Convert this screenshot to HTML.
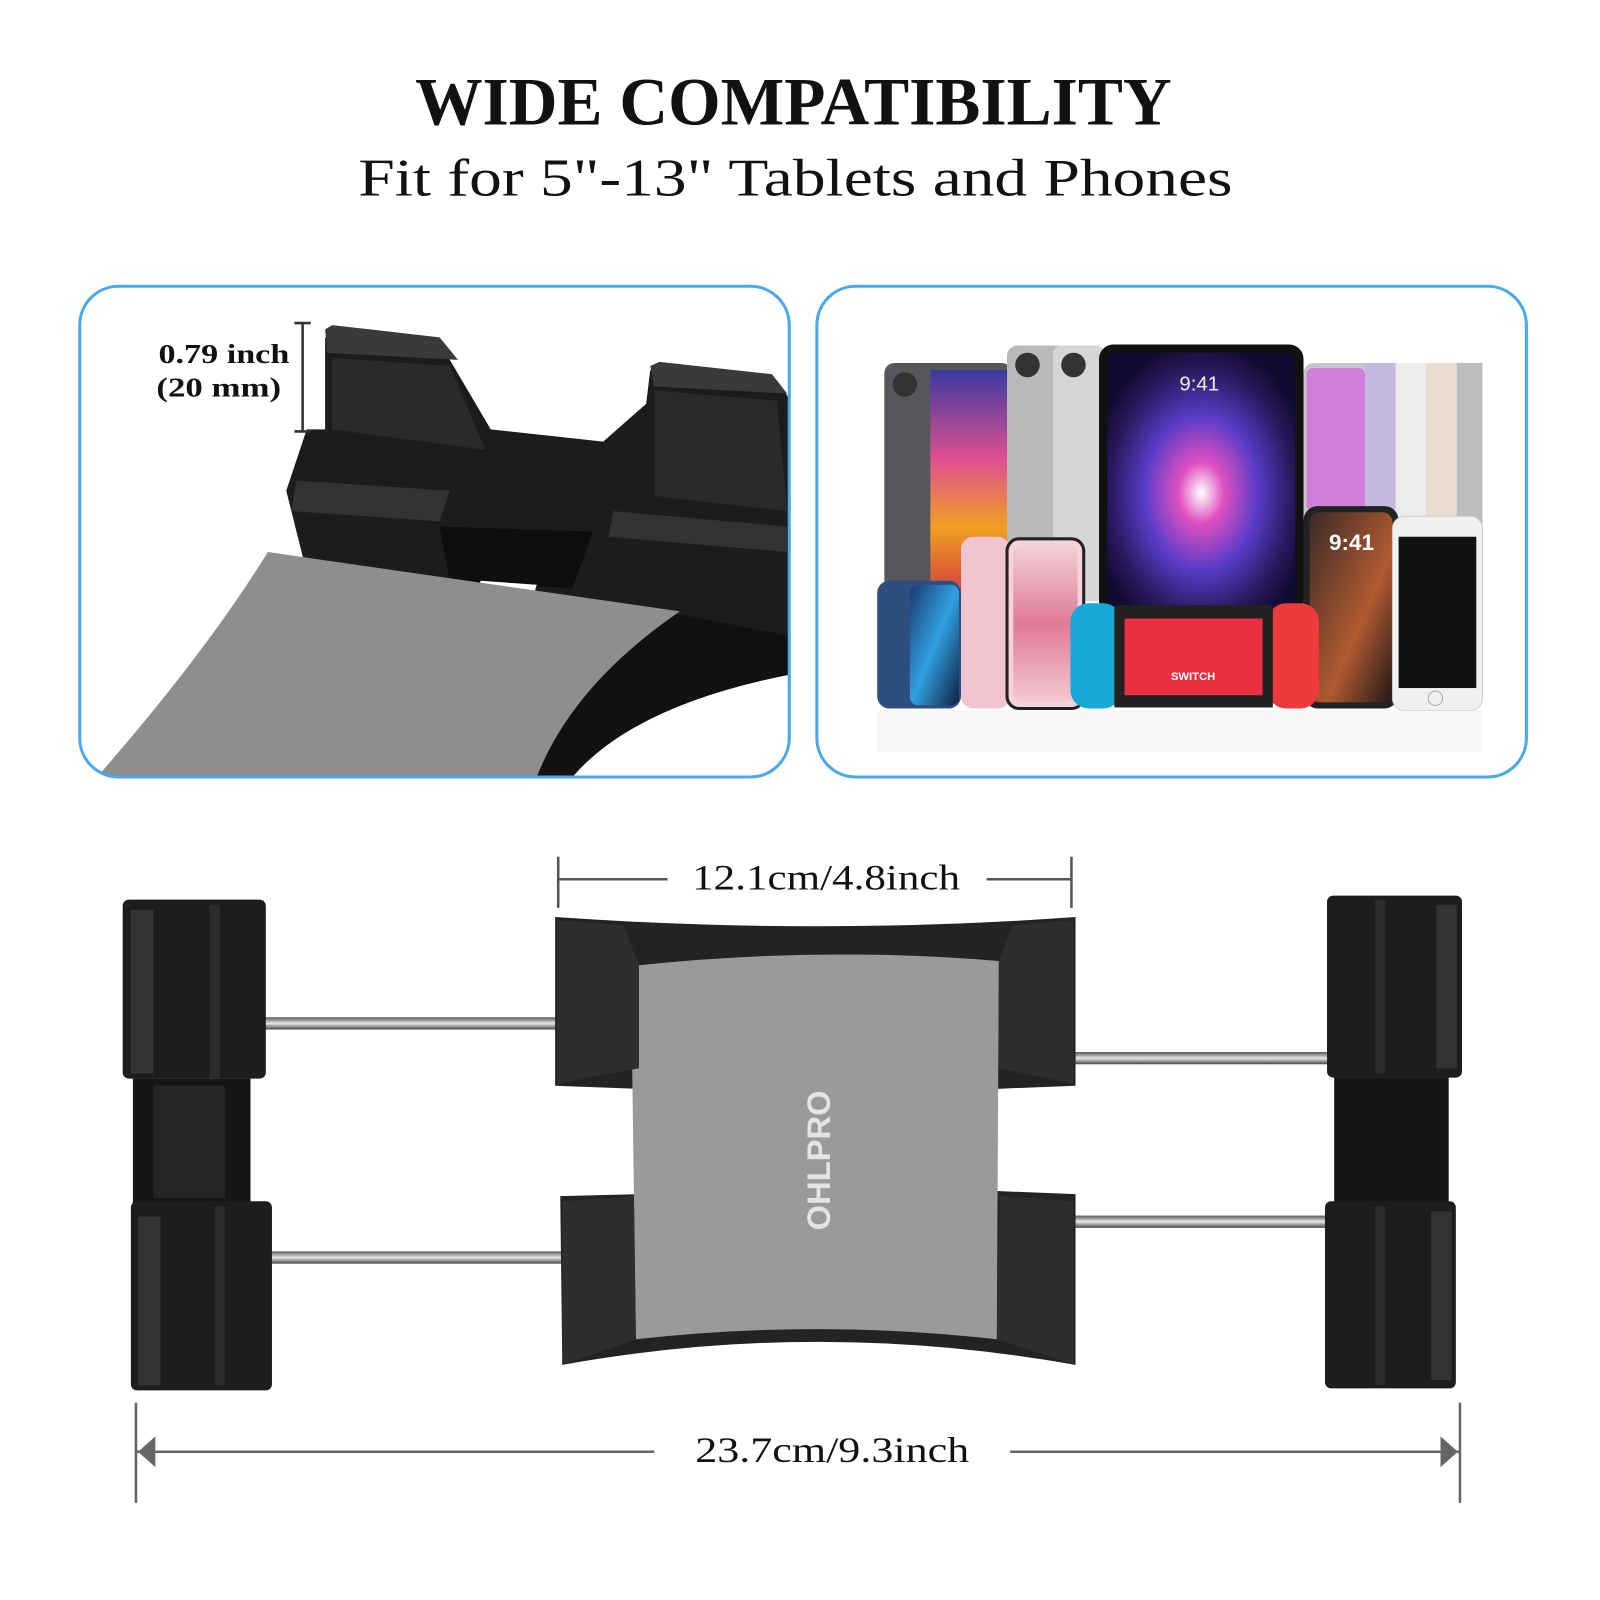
<!DOCTYPE html>
<html><head><meta charset="utf-8"><style>
html,body{margin:0;padding:0;background:#fff;}
svg{display:block}
</style></head><body>
<svg width="1600" height="1600" viewBox="0 0 1565 1565" xmlns="http://www.w3.org/2000/svg">
<defs>
<clipPath id="lb"><rect x="78" y="280" width="694" height="480" rx="38"/></clipPath>
<linearGradient id="rod" x1="0" y1="0" x2="0" y2="1"><stop offset="0" stop-color="#555"/><stop offset="0.5" stop-color="#e8e8e8"/><stop offset="1" stop-color="#444"/></linearGradient>
<radialGradient id="rays" cx="0.5" cy="0.55" r="0.6"><stop offset="0" stop-color="#fff"/><stop offset="0.2" stop-color="#e050c0"/><stop offset="0.5" stop-color="#5a3cc8"/><stop offset="0.8" stop-color="#2a1a60"/><stop offset="1" stop-color="#120a30"/></radialGradient>
<linearGradient id="warm" x1="0" y1="0" x2="0" y2="1"><stop offset="0" stop-color="#3a3aa0"/><stop offset="0.4" stop-color="#e05090"/><stop offset="0.7" stop-color="#f0a020"/><stop offset="1" stop-color="#d04040"/></linearGradient>
<linearGradient id="blueph" x1="0" y1="0" x2="1" y2="1"><stop offset="0" stop-color="#1a3a70"/><stop offset="0.5" stop-color="#30a0e0"/><stop offset="1" stop-color="#102040"/></linearGradient>
<linearGradient id="pinkph" x1="0" y1="0" x2="0" y2="1"><stop offset="0" stop-color="#f0d0d8"/><stop offset="0.5" stop-color="#e07a98"/><stop offset="1" stop-color="#f3c8d2"/></linearGradient>
<linearGradient id="darkph" x1="0" y1="0" x2="1" y2="1"><stop offset="0" stop-color="#3a2a28"/><stop offset="0.6" stop-color="#b05a30"/><stop offset="1" stop-color="#201818"/></linearGradient>
</defs>

<text x="776" y="122" text-anchor="middle" font-family="Liberation Serif, serif" font-weight="bold" font-size="66" textLength="740" lengthAdjust="spacingAndGlyphs" fill="#111">WIDE COMPATIBILITY</text>
<text x="778" y="191" text-anchor="middle" font-family="Liberation Serif, serif" font-size="52" textLength="855" lengthAdjust="spacingAndGlyphs" fill="#111">Fit for 5"-13" Tablets and Phones</text>

<!-- left box -->
<g clip-path="url(#lb)">
<path d="M280,480 L300,420 L318,420 L318,330 L430,335 L480,420 L590,432 L632,395 L636,362 L760,372 L772,390 L772,640 L560,600 L300,560 Z" fill="#1c1c1c"/>
<path d="M318,322 L325,318 L430,330 L448,352 L320,345 Z" fill="#3a3a3a"/>
<path d="M636,358 L645,354 L755,366 L770,385 L640,378 Z" fill="#3a3a3a"/>
<path d="M325,350 L440,358 L475,440 L325,420 Z" fill="#2a2a2a"/>
<path d="M640,382 L760,392 L770,500 L640,485 Z" fill="#2a2a2a"/>
<path d="M290,470 L440,480 L430,510 L285,500 Z" fill="#333"/>
<path d="M600,500 L770,515 L770,540 L595,525 Z" fill="#333"/>
<path d="M430,515 L580,520 L560,575 L440,570 Z" fill="#0e0e0e"/>
<path d="M470,568 L525,572 L522,582 L468,578 Z" fill="#fff"/>
<path d="M262,540 L660,600 L772,622 L772,660 Q620,690 560,760 L520,760 Z" fill="#111"/>
<path d="M262,540 L665,598 Q560,670 525,760 L95,760 Q200,640 262,540 Z" fill="#8e8e8e"/>
</g>
<rect x="78" y="280" width="694" height="480" rx="38" fill="none" stroke="#4aa8ec" stroke-width="3"/>
<text x="155" y="355" font-family="Liberation Serif, serif" font-weight="bold" font-size="27" textLength="128" lengthAdjust="spacingAndGlyphs" fill="#111">0.79 inch</text>
<text x="153" y="388" font-family="Liberation Serif, serif" font-weight="bold" font-size="27" textLength="122" lengthAdjust="spacingAndGlyphs" fill="#111">(20 mm)</text>
<path d="M296,316 V422 M288,316 H304 M288,422 H304" stroke="#333" stroke-width="2.5" fill="none"/>

<!-- right box -->
<rect x="799" y="280" width="694" height="480" rx="38" fill="none" stroke="#4aa8ec" stroke-width="3"/>
<rect x="865" y="355" width="125" height="230" rx="10" fill="#55575a"/>
<rect x="910" y="362" width="78" height="220" fill="url(#warm)"/>
<rect x="985" y="338" width="95" height="250" rx="10" fill="#b8b9bb"/>
<rect x="1030" y="338" width="50" height="250" rx="8" fill="#d5d6d8"/>
<circle cx="1005" cy="357" r="12" fill="#333"/><circle cx="1050" cy="357" r="12" fill="#333"/><circle cx="885" cy="376" r="12" fill="#333"/>
<rect x="1275" y="355" width="175" height="160" rx="10" fill="#c9c4d0"/>
<rect x="1335" y="355" width="30" height="160" fill="#c4b8e0"/><rect x="1365" y="355" width="30" height="160" fill="#ecebee"/><rect x="1395" y="355" width="30" height="160" fill="#e8ddd0"/><rect x="1425" y="355" width="25" height="160" fill="#bdbdbd"/>
<rect x="1278" y="360" width="57" height="140" rx="6" fill="#d080d8"/>
<rect x="1075" y="337" width="200" height="265" rx="14" fill="#111"/>
<rect x="1083" y="345" width="184" height="249" rx="8" fill="url(#rays)"/>
<text x="1173" y="382" text-anchor="middle" font-family="Liberation Sans, sans-serif" font-size="20" fill="#eee">9:41</text>
<rect x="858" y="568" width="82" height="125" rx="12" fill="#2e4e80"/>
<rect x="890" y="572" width="48" height="118" rx="8" fill="url(#blueph)"/>
<rect x="940" y="525" width="48" height="168" rx="12" fill="#f2c4cf"/>
<rect x="985" y="527" width="75" height="166" rx="12" fill="#f4d4da" stroke="#222" stroke-width="3"/>
<rect x="991" y="534" width="63" height="152" rx="8" fill="url(#pinkph)"/>
<rect x="1275" y="495" width="93" height="198" rx="14" fill="#222"/>
<rect x="1281" y="501" width="81" height="186" rx="10" fill="url(#darkph)"/>
<text x="1322" y="538" text-anchor="middle" font-family="Liberation Sans, sans-serif" font-weight="bold" font-size="22" fill="#fff">9:41</text>
<rect x="1362" y="505" width="88" height="190" rx="12" fill="#f2f0ee" stroke="#ccc"/>
<rect x="1368" y="525" width="76" height="148" fill="#111"/>
<circle cx="1404" cy="683" r="7" fill="none" stroke="#aaa"/>
<rect x="1047" y="590" width="50" height="103" rx="18" fill="#19a8d8"/>
<rect x="1240" y="590" width="50" height="103" rx="18" fill="#ee3a3a"/>
<rect x="1090" y="592" width="155" height="100" fill="#222"/>
<rect x="1100" y="605" width="135" height="75" fill="#e83040"/>
<text x="1167" y="665" text-anchor="middle" font-family="Liberation Sans, sans-serif" font-weight="bold" font-size="11" fill="#fff">SWITCH</text>
<rect x="858" y="695" width="592" height="40" fill="#f4f4f4" opacity="0.7"/>

<!-- bottom holder -->
<path d="M546,838 V888 M546,860 H653 M965,860 H1048 M1048,838 V888" stroke="#555" stroke-width="2.5" fill="none"/>
<text x="808" y="870" text-anchor="middle" font-family="Liberation Serif, serif" font-size="35" textLength="262" lengthAdjust="spacingAndGlyphs" fill="#111">12.1cm/4.8inch</text>

<rect x="258" y="995" width="290" height="12" fill="url(#rod)"/>
<rect x="262" y="1224" width="290" height="12" fill="url(#rod)"/>
<rect x="1050" y="1029" width="252" height="12" fill="url(#rod)"/>
<rect x="1050" y="1189" width="252" height="12" fill="url(#rod)"/>

<!-- left clamps -->
<rect x="120" y="880" width="140" height="175" rx="6" fill="#1d1d1d"/>
<rect x="130" y="1055" width="115" height="125" fill="#161616"/>
<rect x="128" y="1175" width="138" height="185" rx="6" fill="#1d1d1d"/>
<rect x="128" y="890" width="22" height="160" fill="#333"/><rect x="205" y="885" width="10" height="170" fill="#2c2c2c"/>
<rect x="135" y="1190" width="22" height="165" fill="#333"/><rect x="210" y="1180" width="10" height="175" fill="#2c2c2c"/>
<rect x="150" y="1062" width="70" height="110" fill="#252525"/>
<!-- right clamps -->
<rect x="1298" y="876" width="132" height="178" rx="6" fill="#1d1d1d"/>
<rect x="1305" y="1054" width="112" height="125" fill="#161616"/>
<rect x="1296" y="1175" width="128" height="183" rx="6" fill="#1d1d1d"/>
<rect x="1405" y="885" width="20" height="160" fill="#333"/><rect x="1345" y="880" width="10" height="170" fill="#2c2c2c"/>
<rect x="1400" y="1185" width="20" height="165" fill="#333"/><rect x="1345" y="1180" width="10" height="175" fill="#2c2c2c"/>

<!-- center body -->
<path d="M543,897 Q800,915 1052,897 L1052,1062 L975,1065 L975,1165 L1052,1168 L1052,1335 Q800,1290 550,1335 L548,1170 L625,1168 L625,1065 L543,1062 Z" fill="#232323"/>
<path d="M617,945 Q800,925 977,940 L975,1310 Q800,1290 622,1310 Z" fill="#9a9a9a"/>
<path d="M545,900 L610,905 L625,945 L625,1045 L545,1060 Z" fill="#2e2e2e"/>
<path d="M1050,900 L990,905 L977,940 L977,1045 L1050,1060 Z" fill="#2e2e2e"/>
<path d="M550,1175 L620,1170 L622,1310 L550,1335 Z" fill="#2e2e2e"/>
<path d="M1050,1175 L978,1170 L975,1310 L1050,1335 Z" fill="#2e2e2e"/>
<text transform="translate(812,1135) rotate(-90)" text-anchor="middle" font-family="Liberation Sans, sans-serif" font-weight="bold" font-size="32" fill="#e4e4e4">OHLPRO</text>

<path d="M133,1372 V1470 M133,1420 H640 M988,1420 H1428 M1428,1372 V1470" stroke="#666" stroke-width="2.5" fill="none"/>
<path d="M135,1420 L152,1405 L152,1435 Z M1426,1420 L1409,1405 L1409,1435 Z" fill="#666"/>
<text x="814" y="1430" text-anchor="middle" font-family="Liberation Serif, serif" font-size="35" textLength="268" lengthAdjust="spacingAndGlyphs" fill="#111">23.7cm/9.3inch</text>
</svg>
</body></html>
